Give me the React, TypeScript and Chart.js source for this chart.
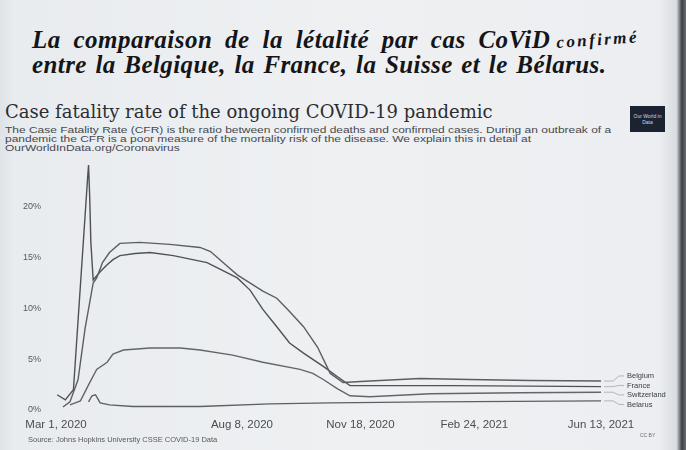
import React, { useEffect, useRef } from "react";
import { Chart, registerables } from "chart.js";

Chart.register(...registerables);

// ---- Text ----
const heading1 = "La comparaison de la létalité par cas CoViD";
const heading1b = "confirmé";
const heading2 = "entre la Belgique, la France, la Suisse et le Bélarus.";
const chartTitle = "Case fatality rate of the ongoing COVID-19 pandemic";
const subtitleLines = [
  "The Case Fatality Rate (CFR) is the ratio between confirmed deaths and confirmed cases. During an outbreak of a",
  "pandemic the CFR is a poor measure of the mortality risk of the disease. We explain this in detail at",
  "OurWorldInData.org/Coronavirus",
];
const sourceText = "Source: Johns Hopkins University CSSE COVID-19 Data";
const licenseText = "CC BY";
const logoText = "Our World in Data";

// ---- Axes (x = days since Mar 1, 2020) ----
const xTickDays = [0, 160, 262, 360, 469];
const xTickLabels = ["Mar 1, 2020", "Aug 8, 2020", "Nov 18, 2020", "Feb 24, 2021", "Jun 13, 2021"];
const yTickValues = [0, 5, 10, 15, 20];

// ---- Series (case fatality rate, %) ----
const belgiumDays = [6, 12, 19, 25, 32, 35, 40, 46, 55, 72, 98, 124, 133, 144, 156, 178, 190, 201, 213, 225, 236, 247, 262, 279, 313, 356, 408, 469];
const belgiumCfr = [0.3, 0.8, 3.0, 8.0, 12.5, 13.0, 14.5, 15.5, 16.4, 16.5, 16.3, 16.0, 15.6, 14.5, 13.3, 11.7, 11.0, 9.7, 8.2, 6.2, 3.6, 2.7, 2.8, 2.9, 3.1, 3.0, 2.9, 2.85];

const franceDays = [1, 8, 15, 27, 28, 29, 30, 32, 38, 44, 49, 55, 68, 81, 101, 130, 156, 167, 178, 190, 201, 213, 230, 242, 253, 279, 339, 408, 469];
const franceCfr = [1.5, 1.0, 2.0, 22.5, 24.1, 21.0, 16.5, 12.8, 13.6, 14.3, 14.8, 15.2, 15.4, 15.5, 15.2, 14.5, 13.0, 11.8, 9.9, 8.2, 6.6, 5.6, 4.3, 3.3, 2.4, 2.4, 2.4, 2.35, 2.3];

const switzerlandDays = [12, 21, 29, 35, 44, 49, 58, 81, 107, 124, 152, 178, 210, 221, 230, 242, 253, 270, 322, 399, 469];
const switzerlandCfr = [0.5, 0.9, 2.7, 4.0, 4.7, 5.5, 5.9, 6.1, 6.1, 5.9, 5.4, 4.7, 4.0, 3.6, 3.0, 2.1, 1.4, 1.3, 1.6, 1.7, 1.75];

const belarusDays = [28, 31, 34, 38, 46, 66, 124, 184, 236, 322, 469];
const belarusCfr = [0.8, 1.4, 1.5, 0.7, 0.5, 0.35, 0.35, 0.6, 0.7, 0.8, 0.9];

const countryNames = ["Belgium", "France", "Switzerland", "Belarus"];
const lineColors = ["#5a5e64", "#4e5258", "#62666c", "#5c6066"];

const toPoints = (days: number[], vals: number[]) => days.map((d, i) => ({ x: d, y: vals[i] }));

export default function App() {
  const canvasRef = useRef<HTMLCanvasElement>(null);

  useEffect(() => {
    const canvas = canvasRef.current;
    if (!canvas) return;
    const seriesData = [
      toPoints(belgiumDays, belgiumCfr),
      toPoints(franceDays, franceCfr),
      toPoints(switzerlandDays, switzerlandCfr),
      toPoints(belarusDays, belarusCfr),
    ];

    const endLabels = {
      id: "endLabels",
      afterDatasetsDraw(chart: any) {
        const ctx = chart.ctx;
        const items = chart.data.datasets.map((ds: any, i: number) => {
          const meta = chart.getDatasetMeta(i);
          const last = meta.data[meta.data.length - 1];
          return { label: ds.label, x: last.x, y: last.y, ly: last.y };
        });
        items.sort((a: any, b: any) => a.y - b.y);
        const gap = 9.5;
        for (let it = 0; it < 200; it++) {
          for (let i = 1; i < items.length; i++) {
            const d = items[i].ly - items[i - 1].ly;
            if (d < gap) {
              const s = (gap - d) / 2;
              items[i].ly += s;
              items[i - 1].ly -= s;
            }
          }
        }
        ctx.save();
        ctx.strokeStyle = "#a4a8ad";
        ctx.lineWidth = 0.8;
        ctx.font = "7.5px 'Liberation Sans', Arial, sans-serif";
        ctx.fillStyle = "#3a3d42";
        ctx.textBaseline = "middle";
        items.forEach((it: any) => {
          ctx.beginPath();
          ctx.moveTo(it.x + 3, it.y);
          ctx.lineTo(it.x + 12, it.y);
          ctx.lineTo(it.x + 18, it.ly);
          ctx.lineTo(it.x + 23, it.ly);
          ctx.stroke();
          ctx.fillText(it.label, it.x + 26, it.ly);
        });
        ctx.restore();
      },
    };

    const chart = new Chart(canvas, {
      type: "line",
      data: {
        datasets: countryNames.map((name, i) => ({
          label: name,
          data: seriesData[i],
          borderColor: lineColors[i],
          borderWidth: 1.4,
          pointRadius: 0,
          tension: 0,
          fill: false,
        })),
      },
      options: {
        responsive: false,
        maintainAspectRatio: false,
        animation: false,
        layout: { padding: { left: 0, right: 85, top: 156, bottom: 16 } },
        plugins: { legend: { display: false }, tooltip: { enabled: false }, title: { display: false } },
        scales: {
          x: {
            type: "linear",
            min: 0,
            max: 469,
            grid: { display: false, drawTicks: false },
            border: { display: false },
            afterBuildTicks: (scale: any) => {
              scale.ticks = xTickDays.map((v) => ({ value: v }));
            },
            afterFit: (scale: any) => {
              scale.height = 24;
            },
            ticks: {
              autoSkip: false,
              maxRotation: 0,
              padding: 8,
              color: "#4a4d52",
              font: { family: "'Liberation Sans', Arial, sans-serif", size: 11.5 },
              callback: (v: any) => {
                const idx = xTickDays.indexOf(Number(v));
                return idx >= 0 ? xTickLabels[idx] : "";
              },
            },
          },
          y: {
            min: 0,
            max: 25,
            grid: { display: false, drawTicks: false },
            border: { display: false },
            afterBuildTicks: (scale: any) => {
              scale.ticks = yTickValues.map((v) => ({ value: v }));
            },
            afterFit: (scale: any) => {
              scale.width = 56;
            },
            ticks: {
              padding: 15,
              color: "#55585d",
              font: { family: "'Liberation Sans', Arial, sans-serif", size: 9 },
              callback: (v: any) => `${v}%`,
            },
          },
        },
      },
      plugins: [endLabels],
    });
    return () => chart.destroy();
  }, []);

  const headingFont = "'Liberation Serif', 'DejaVu Serif', serif";
  return (
    <div
      style={{
        position: "fixed",
        left: 0,
        top: 0,
        width: 686,
        height: 450,
        overflow: "hidden",
        background: "linear-gradient(90deg, #dfe2e6 0px, #e9ecef 14px, #eef0f2 50%, #eceef1 96%, #d9dce0 98.6%, #3c3f44 99.4%, #6d7075 100%)",
      }}
    >
      <div
        style={{
          position: "absolute",
          left: 32,
          top: 27,
          fontFamily: headingFont,
          fontWeight: "bold",
          fontStyle: "italic",
          fontSize: 25,
          lineHeight: "25px",
          letterSpacing: 0.5,
          wordSpacing: 6,
          color: "#141518",
          whiteSpace: "nowrap",
        }}
      >
        {heading1}
      </div>
      <div
        style={{
          position: "absolute",
          left: 557,
          top: 34,
          fontFamily: headingFont,
          fontWeight: "bold",
          fontStyle: "italic",
          fontSize: 17,
          lineHeight: "17px",
          letterSpacing: 2.4,
          color: "#141518",
          whiteSpace: "nowrap",
          transform: "rotate(-4deg)",
          transformOrigin: "left bottom",
        }}
      >
        {heading1b}
      </div>
      <div
        style={{
          position: "absolute",
          left: 32,
          top: 52,
          fontFamily: headingFont,
          fontWeight: "bold",
          fontStyle: "italic",
          fontSize: 25,
          lineHeight: "25px",
          letterSpacing: 0.4,
          wordSpacing: 2,
          color: "#141518",
          whiteSpace: "nowrap",
        }}
      >
        {heading2}
      </div>
      <div
        style={{
          position: "absolute",
          left: 5,
          top: 103,
          fontFamily: "'DejaVu Serif', serif",
          fontSize: 18,
          lineHeight: "18px",
          color: "#2b2d31",
          whiteSpace: "nowrap",
        }}
      >
        {chartTitle}
      </div>
      <div
        style={{
          position: "absolute",
          left: 5,
          top: 125,
          fontFamily: "'Liberation Sans', Arial, sans-serif",
          fontSize: 9.5,
          lineHeight: "9px",
          color: "#46494e",
          whiteSpace: "nowrap",
          transform: "scaleX(1.26)",
          transformOrigin: "left top",
        }}
      >
        {subtitleLines.map((l, i) => (
          <div key={i}>{l}</div>
        ))}
      </div>
      <div
        style={{
          position: "absolute",
          left: 630,
          top: 106,
          width: 35,
          height: 26,
          background: "#1b2333",
          color: "#cfd6e0",
          fontFamily: "'Liberation Sans', Arial, sans-serif",
          fontSize: 5,
          lineHeight: "6px",
          textAlign: "center",
          paddingTop: 7,
          boxSizing: "border-box",
          overflow: "hidden",
        }}
      >
        {logoText}
      </div>
      <canvas ref={canvasRef} width={686} height={450} style={{ position: "absolute", left: 0, top: 0, width: 686, height: 450 }} />
      <div
        style={{
          position: "absolute",
          left: 28,
          top: 436,
          fontFamily: "'Liberation Sans', Arial, sans-serif",
          fontSize: 7.5,
          lineHeight: "8px",
          color: "#55585d",
          whiteSpace: "nowrap",
        }}
      >
        {sourceText}
      </div>
      <div
        style={{
          position: "absolute",
          left: 640,
          top: 432,
          fontFamily: "'Liberation Sans', Arial, sans-serif",
          fontSize: 5,
          lineHeight: "6px",
          color: "#66696e",
          whiteSpace: "nowrap",
        }}
      >
        {licenseText}
      </div>
    </div>
  );
}
